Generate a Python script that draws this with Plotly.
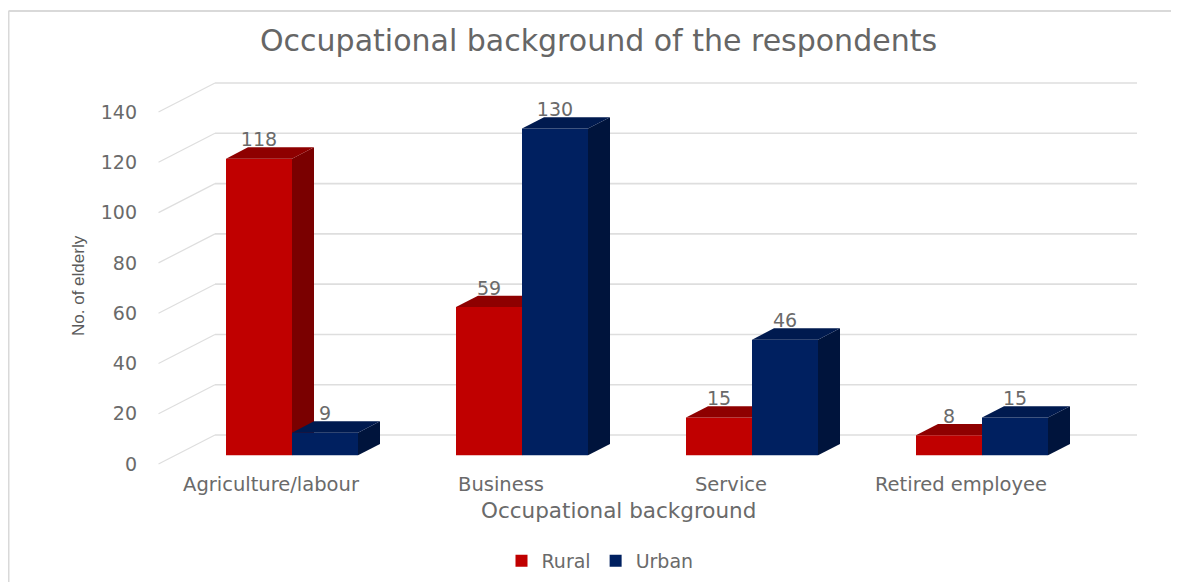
import plotly.graph_objects as go

categories = ["Agriculture/labour", "Business", "Service", "Retired employee"]
rural = [118, 59, 15, 8]
urban = [9, 130, 46, 15]
y_ticks = [0, 20, 40, 60, 80, 100, 120, 140]

PAGE = 8                          # browser body margin
W, H = 1179 - PAGE, 582 - PAGE
L, R, T, B = 140, 1160, 60, 470   # plot box in page pixels
PX_PER_CAT = 230.0
PX_PER_UNIT = 2.514
X0_PX = 292.0                     # centre of first category
Y0_PX = 464.0                     # zero on the tick-label plane
TEXT = "#6a6a6a"
GRID = "#dedede"
FONT = "DejaVu Sans"


def dx(px):
    return px / PX_PER_CAT


def dy(px):
    return px / PX_PER_UNIT


x_range = [(L - X0_PX) / PX_PER_CAT, (R - X0_PX) / PX_PER_CAT]
y_range = [(Y0_PX - B) / PX_PER_UNIT, (Y0_PX - T) / PX_PER_UNIT]
xs = list(range(len(categories)))

BAR_W = dx(66)
BASE = dy(8.7)       # bars' front floor above the tick-label plane
DEPTH_X, DEPTH_Y = dx(22), dy(11.3)
WALL_X, WALL_Y = dx(57), dy(29)
LEFT_X = dx(158.5 - X0_PX)
WALL_LEFT = dx(215 - X0_PX)
WALL_RIGHT = dx(1137 - X0_PX)


def paper_x(px):
    return (px - L) / (R - L)


def paper_y(px):
    return (B - px) / (B - T)


fig = go.Figure()


def add_series(name, values, sign, front, top, side, xa, ya):
    centres = [i + sign * BAR_W / 2 for i in xs]
    fig.add_trace(go.Bar(
        x=centres, y=values, base=[BASE] * len(values), width=BAR_W, name=name,
        marker=dict(color=front, line=dict(width=0)), xaxis=xa, yaxis=ya,
        hoverinfo="skip"))
    for c, v in zip(centres, values):
        x0, x1 = c - BAR_W / 2, c + BAR_W / 2
        t = BASE + v
        fig.add_trace(go.Scatter(
            x=[x1, x1 + DEPTH_X, x1 + DEPTH_X, x1, x1],
            y=[BASE, BASE + DEPTH_Y, t + DEPTH_Y, t, BASE],
            fill="toself", fillcolor=side, mode="lines", line=dict(width=0),
            showlegend=False, hoverinfo="skip", xaxis=xa, yaxis=ya))
        fig.add_trace(go.Scatter(
            x=[x0, x1, x1 + DEPTH_X, x0 + DEPTH_X, x0],
            y=[t, t, t + DEPTH_Y, t + DEPTH_Y, t],
            fill="toself", fillcolor=top, mode="lines", line=dict(width=0),
            showlegend=False, hoverinfo="skip", xaxis=xa, yaxis=ya))
    fig.add_trace(go.Scatter(
        x=centres, y=[BASE + v + dy(17) for v in values],
        text=[str(v) for v in values], mode="text", textposition="middle center",
        textfont=dict(family=FONT, size=19, color=TEXT),
        showlegend=False, hoverinfo="skip", xaxis=xa, yaxis=ya))


add_series("Rural", rural, -1, "#C00000", "#8E0000", "#7A0000", "x", "y")
add_series("Urban", urban, 1, "#002060", "#001A4F", "#00143C", "x2", "y2")

shapes = []
for v in y_ticks:
    shapes.append(dict(type="line", xref="x", yref="y", layer="below",
                       x0=LEFT_X, y0=v, x1=WALL_LEFT, y1=v + WALL_Y,
                       line=dict(color=GRID, width=1.2)))
    shapes.append(dict(type="line", xref="x", yref="y", layer="below",
                       x0=WALL_LEFT, y0=v + WALL_Y, x1=WALL_RIGHT, y1=v + WALL_Y,
                       line=dict(color=GRID, width=1.6)))
# outer frame, left and top only
shapes.append(dict(type="line", xref="paper", yref="paper", layer="below",
                   x0=paper_x(8.5), y0=paper_y(11), x1=paper_x(8.5), y1=paper_y(582),
                   line=dict(color="#d9d9d9", width=2)))
shapes.append(dict(type="line", xref="paper", yref="paper", layer="below",
                   x0=paper_x(8.5), y0=paper_y(11), x1=paper_x(1179), y1=paper_y(11),
                   line=dict(color="#d9d9d9", width=2)))

annotations = [
    dict(text="Occupational background of the respondents", xref="paper", yref="paper",
         x=paper_x(598), y=paper_y(41), showarrow=False, xanchor="center", yanchor="middle",
         font=dict(family=FONT, size=30, color="#666666")),
    dict(text="Occupational background", xref="paper", yref="paper",
         x=paper_x(618), y=paper_y(510), showarrow=False, xanchor="center", yanchor="middle",
         font=dict(family=FONT, size=21.5, color=TEXT)),
    dict(text="No. of elderly", xref="paper", yref="paper", textangle=-90,
         x=paper_x(78), y=paper_y(286), showarrow=False, xanchor="center", yanchor="middle",
         font=dict(family="Liberation Sans", size=17, color="#5a5a5a")),
]

fig.update_layout(
    width=W, height=H,
    margin=dict(l=L - PAGE, r=W - (R - PAGE), t=T - PAGE, b=H - (B - PAGE), autoexpand=False),
    paper_bgcolor="white", plot_bgcolor="white",
    barmode="overlay",
    shapes=shapes, annotations=annotations,
    font=dict(family=FONT, color=TEXT),
    legend=dict(orientation="h", xref="container", yref="container",
                x=(600 - PAGE) / W, y=1 - (561 - PAGE) / H, xanchor="center", yanchor="middle",
                font=dict(family=FONT, size=19, color=TEXT), itemwidth=30,
                bgcolor="rgba(0,0,0,0)"),
    xaxis=dict(range=x_range, tickmode="array",
               tickvals=[i - dx(21) for i in xs], ticktext=categories, tickangle=0,
               showgrid=False, zeroline=False, showline=False, ticks="",
               tickfont=dict(family=FONT, size=19.5, color=TEXT)),
    yaxis=dict(range=y_range, tickmode="array", tickvals=y_ticks,
               showgrid=False, zeroline=False, showline=False, ticks="", ticklabelstandoff=2,
               tickfont=dict(family=FONT, size=19, color=TEXT)),
    xaxis2=dict(range=x_range, overlaying="x", matches="x", visible=False),
    yaxis2=dict(range=y_range, overlaying="y", matches="y", visible=False),
)

fig.write_html("out.html")
